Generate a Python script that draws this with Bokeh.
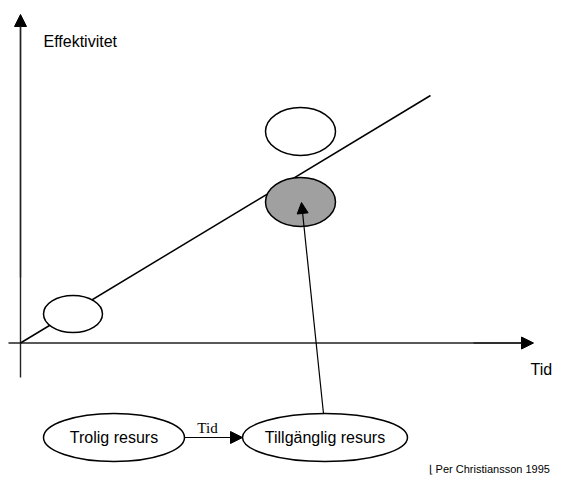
from bokeh.plotting import figure
from bokeh.models import Range1d, Arrow, NormalHead, ColumnDataSource
from bokeh.core.properties import value
from bokeh.embed import file_html
from bokeh.resources import INLINE

# --- diagram data (reference pixel coordinates) ---
# axes: y-axis (x0, y_bottom, y_top), x-axis (x_start, y0, x_end)
axis_y = [20, 377, 14]
axis_x = [8, 342.5, 533]
# trend line from origin to end
trend_x = [20, 430]
trend_y = [342.5, 95]
# ellipses on the chart
ell_x = [72.5, 300, 300]
ell_y = [313.5, 131, 201.5]
ell_w = [59, 70, 70]
ell_h = [37, 48, 49]
ell_fill = ["white", "white", "#a0a0a0"]
# resource ellipses at bottom
res_x = [113.5, 324.5]
res_y = [437, 437]
res_w = [141, 165]
res_h = [48, 48]
res_labels = ["Trolig resurs", "Tillgänglig resurs"]
# arrow from "Tillgänglig resurs" to the grey ellipse
up_arrow = [323, 413, 301, 202]
# arrow between resources
side_arrow = [184, 437, 242, 437]
side_label = ["Tid", 207, 427]
# axis labels
y_label = ["Effektivitet", 43, 41]
x_label = ["Tid", 530, 369]
credit = ["\u230a Per Christiansson 1995", 428, 468]

p = figure(width=553, height=475, output_backend="svg", toolbar_location=None,
           x_range=Range1d(0, 553), y_range=Range1d(475, 0),
           min_border=0, outline_line_color=None)
p.axis.visible = False
p.grid.visible = False

col = "#000000"
axcol = "#222222"
# axes
p.line([axis_y[0], axis_y[0]], [axis_y[1], axis_y[2] + 8], line_color=axcol, line_width=1.4)
p.add_layout(Arrow(end=NormalHead(size=12, fill_color="black", line_color="black"),
                   x_start=axis_y[0], y_start=axis_y[1] - 100, x_end=axis_y[0], y_end=axis_y[2],
                   line_color=axcol, line_width=1.4))
p.line([axis_x[0], axis_x[2] - 8], [axis_x[1], axis_x[1]], line_color=axcol, line_width=1.4)
p.add_layout(Arrow(end=NormalHead(size=12, fill_color="black", line_color="black"),
                   x_start=axis_x[2] - 60, y_start=axis_x[1], x_end=axis_x[2], y_end=axis_x[1],
                   line_color=axcol, line_width=1.4))

# trend line
p.line(trend_x, trend_y, line_color=col, line_width=1.5)

# ellipses
p.ellipse(x=ell_x, y=ell_y, width=ell_w, height=ell_h, fill_color=ell_fill,
          line_color=col, line_width=1.5)

# arrow to grey ellipse
p.add_layout(Arrow(end=NormalHead(size=11, fill_color="black", line_color="black"),
                   x_start=up_arrow[0], y_start=up_arrow[1], x_end=up_arrow[2], y_end=up_arrow[3],
                   line_color=col, line_width=1.2))

# resource ellipses
src = ColumnDataSource(dict(x=res_x, y=res_y, w=res_w, h=res_h, t=res_labels))
p.ellipse(x="x", y="y", width="w", height="h", source=src, fill_color="white",
          line_color=col, line_width=1.5)
p.text(x="x", y="y", text="t", source=src, text_font=value("Liberation Sans"),
       text_font_size="16px", text_align="center", text_baseline="middle", text_color="black")

p.add_layout(Arrow(end=NormalHead(size=12, fill_color="black", line_color="black"),
                   x_start=side_arrow[0], y_start=side_arrow[1], x_end=side_arrow[2], y_end=side_arrow[3],
                   line_color=col, line_width=1.2))
p.text(x=[side_label[1]], y=[side_label[2]], text=[side_label[0]], text_font=value("Liberation Serif"),
       text_font_size="15px", text_align="center", text_baseline="middle", text_color="black")

# labels
p.text(x=[y_label[1]], y=[y_label[2]], text=[y_label[0]], text_font=value("Liberation Sans"),
       text_font_size="16px", text_align="left", text_baseline="middle", text_color="black")
p.text(x=[x_label[1]], y=[x_label[2]], text=[x_label[0]], text_font=value("Liberation Sans"),
       text_font_size="16px", text_align="left", text_baseline="middle", text_color="black")
p.text(x=[credit[1]], y=[credit[2]], text=[credit[0]], text_font=value("Liberation Sans"),
       text_font_size="11px", text_align="left", text_baseline="middle", text_color="black")

open("out.html", "w").write(file_html(p, INLINE))
